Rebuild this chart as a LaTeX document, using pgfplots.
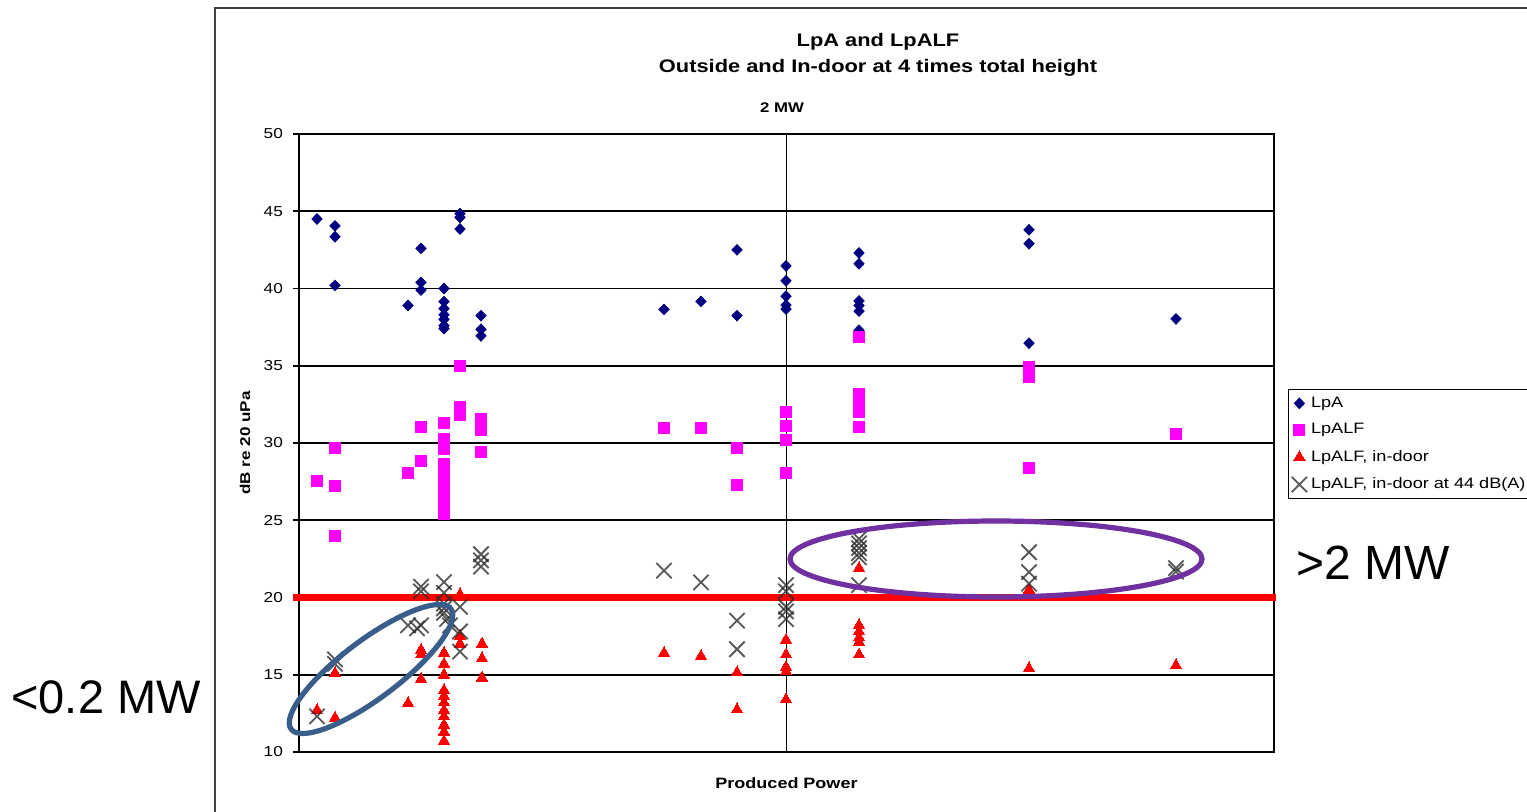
\documentclass[border=0pt]{standalone}
\usepackage{pgfplots}
\pgfplotsset{compat=1.18}
\usepackage{fontspec}
\setmainfont{Liberation Sans}[FakeStretch=1.2]
\newfontfamily\plain{Liberation Sans}
\definecolor{lpa}{RGB}{0,0,128}
\definecolor{lpalf}{RGB}{255,0,255}
\definecolor{xgray}{RGB}{45,45,45}
\definecolor{ellblue}{RGB}{58,94,140}
\definecolor{ellpurple}{RGB}{112,48,160}
\begin{document}
\begin{tikzpicture}[x=0.5pt,y=0.5pt]
\path[use as bounding box] (0,0) rectangle (1527,811);
\begin{scope}
\clip (0,0) rectangle (1527,811);
\fill[white] (0,0) rectangle (1527,811);
\draw[line width=1pt, black!75] (215,-10) -- (215,803) -- (1560,803);
\node[font=\bfseries\fontsize{9.1}{10}\selectfont] at (878,769) {LpA and LpALF};
\node[font=\bfseries\fontsize{9.1}{10}\selectfont] at (878,743) {Outside and In-door at 4 times total height};
\node[font=\bfseries\fontsize{7}{8}\selectfont] at (782,703) {2 MW};
\begin{axis}[
  at={(149.5pt,29.5pt)}, anchor=south west,
  scale only axis, width=487.5pt, height=309pt,
  xmin=299, xmax=1274, ymin=10, ymax=50,
  ytick={10,15,...,50},
  xtick={786.5}, xticklabels={},
  ytick pos=left,
  grid=major,
  major grid style={black, line width=0.95pt},
  axis line style={black, line width=0.8pt},
  tick align=outside,
  major tick length=3pt,
  ytick style={black, line width=0.8pt},
  xtick style={draw=none},
  /pgf/number format/assume math mode=true,
  yticklabel style={font=\fontsize{7.2}{8}\selectfont, xshift=-1.5pt},
  ylabel={dB re 20 uPa},
  ylabel style={at={(axis description cs:-0.0554,0.5)}, anchor=center, font=\bfseries\fontsize{7.1}{8}\selectfont},
  xlabel={Produced Power},
  xlabel style={at={(axis description cs:0.5,-0.0502)}, anchor=center, font=\bfseries\fontsize{7.5}{8}\selectfont},
  clip=false,
  legend style={at={(1.0144,0.5874)}, anchor=north west, draw=black, line width=0.7pt,
    font=\fontsize{7.55}{8.5}\selectfont, row sep=2.7pt, inner sep=1.5pt},
  legend cell align=left,
  legend image code/.code={\draw[mark repeat=2,mark phase=2] plot coordinates {(0pt,0pt)(3pt,0pt)(6pt,0pt)};},
]
\addplot[only marks, mark=diamond*, mark size=2.7pt, color=lpa, mark options={xscale=1.3, line width=0.3pt}] coordinates {
(317,44.5)
(335,44.05) (335,43.35) (335,40.2)
(408,38.9)
(421,42.6) (421,40.4) (421,39.9)
(444,40.0) (444,39.15) (444,38.7) (444,38.3) (444,38.0) (444,37.6) (444,37.4)
(460,44.85) (460,44.6) (460,43.85)
(481,38.24) (481,37.36) (481,36.93)
(664,38.65)
(701,39.17)
(737,42.5) (737,38.24)
(786,41.46) (786,40.5) (786,39.5) (786,38.93) (786,38.67)
(859,42.3) (859,41.6) (859,39.2) (859,38.9) (859,38.54) (859,37.3)
(1029,43.8) (1029,42.9) (1029,36.46)
(1176,38.03)
};
\addlegendentry{LpA}
\addplot[only marks, mark=square*, mark size=2.75pt, color=lpalf, mark options={line width=0pt}] coordinates {
(317,27.55)
(335,29.7) (335,27.2) (335,24.0)
(408,28.04)
(421,31.06) (421,28.85)
(444,31.3) (444,30.28) (444,29.62) (444,28.64) (444,27.96) (444,27.28) (444,26.53) (444,25.97) (444,25.42)
(460,35.0) (460,32.35) (460,31.82)
(481,31.56) (481,30.84) (481,29.44)
(664,31.0)
(701,31.0)
(737,29.65) (737,27.3)
(786,32.03) (786,31.12) (786,30.2) (786,28.04)
(859,36.88) (859,33.2) (859,32.6) (859,32.0) (859,31.06)
(1029,34.94) (1029,34.29) (1029,28.4)
(1176,30.56)
};
\addlegendentry{LpALF}
\addplot[only marks, mark=triangle*, mark size=3.3pt, color=red, mark options={line width=0pt}] coordinates {
(317,12.7)
(335,15.1) (335,12.2)
(408,13.15)
(421,16.6) (421,16.3) (421,14.7)
(444,16.4) (444,15.7) (444,15.0) (444,14.0) (444,13.6) (444,13.2) (444,12.7) (444,12.3) (444,11.75) (444,11.3) (444,10.7)
(460,20.2) (460,17.5) (460,17.0)
(482,17.0) (482,16.05) (482,14.8)
(664,16.4)
(701,16.2)
(737,15.14) (737,12.75)
(786,17.25) (786,16.3) (786,15.5) (786,15.2) (786,13.4)
(859,21.9) (859,18.2) (859,17.8) (859,17.4) (859,17.1) (859,16.3)
(1029,20.5) (1029,15.4)
(1176,15.6)
};
\addlegendentry{LpALF, in-door}
\addplot[only marks, mark=x, mark size=5.4pt, color=xgray, mark options={line width=0.9pt, opacity=0.8}] coordinates {
(317,12.3)
(335,16.0) (335,15.7)
(408,18.2)
(421,20.7) (421,20.4) (421,18.2) (417,18.0)
(444,21.0) (444,20.3) (444,19.6) (444,19.3) (444,19.0) (447,18.6) (450,18.2)
(460,19.4) (460,17.8) (460,16.5)
(481,22.8) (481,22.4) (481,22.0)
(664,21.74)
(701,20.98)
(737,18.5) (737,16.65)
(786,20.8) (786,20.4) (786,19.4) (786,19.1) (786,18.6)
(859,23.8) (859,23.5) (859,23.2) (859,22.87) (859,22.6) (859,20.8)
(1029,22.93) (1029,21.64) (1029,20.9)
(1176,21.68) (1176,21.9)
};
\addlegendentry{LpALF, in-door at 44 dB(A)}
\addplot[red, line width=3.5pt, forget plot] coordinates {(293,20) (1276,20)};
\end{axis}
\draw[ellblue, line width=2.6pt, rotate around={37:(371,142)}] (371,142) ellipse (50pt and 14.5pt);
\draw[ellpurple, line width=2.6pt] (996,252) ellipse (103pt and 19pt);
\node[font=\plain\fontsize{23.5}{26}\selectfont, anchor=west, inner sep=0pt] at (11,114) {<0.2 MW};
\node[font=\plain\fontsize{24}{26}\selectfont, anchor=west, inner sep=0pt] at (1296,248) {>2 MW};
\end{scope}
\end{tikzpicture}
\end{document}
